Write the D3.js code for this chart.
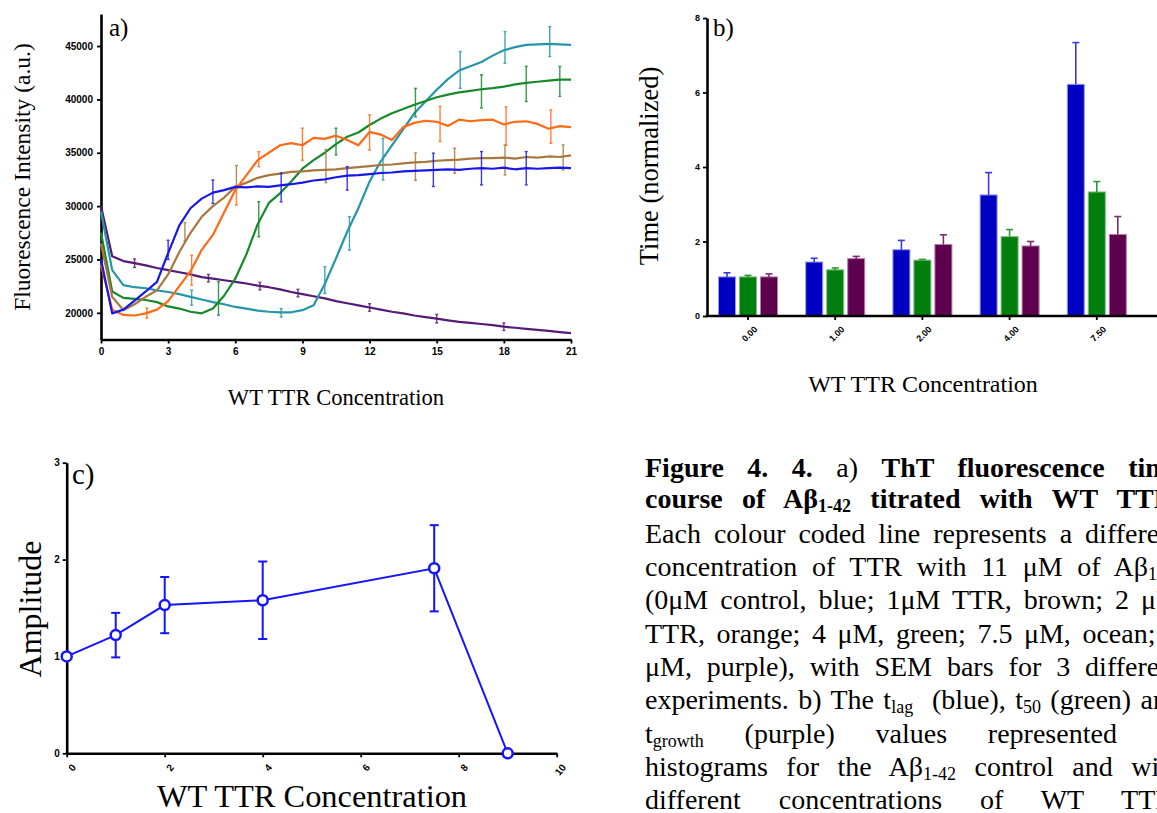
<!DOCTYPE html>
<html>
<head>
<meta charset="utf-8">
<script src="https://cdn.jsdelivr.net/npm/d3@7"></script>
<style>
html,body{margin:0;padding:0;background:#fff;overflow:hidden;width:1157px;height:813px;}
#chart{position:absolute;left:0;top:0;}
.cap{position:absolute;left:645px;width:536px;font-family:"Liberation Serif","Times New Roman",serif;font-size:28px;line-height:28px;text-align:justify;text-align-last:justify;color:#000;}
.sb{font-size:18px;vertical-align:-4px;line-height:0;}
.tick text{font-family:"Liberation Sans",Arial,sans-serif;font-weight:bold;fill:#000;}
.serif{font-family:"Liberation Serif","Times New Roman",serif;fill:#000;}
</style>
</head>
<body>
<div id="chart"></div>
<div id="caption"></div>
<script>
// ---------------- Panel a data (ThT fluorescence time course) ----------------
const timeA = [0,0.5,1,1.5,2,2.5,3,3.5,4,4.5,5,5.5,6,6.5,7,7.5,8,8.5,9,9.5,10,10.5,11,11.5,12,12.5,13,13.5,14,14.5,15,15.5,16,16.5,17,17.5,18,18.5,19,19.5,20,20.5,21];
const fluor0uM  = [25000,19950,20300,21150,22000,22900,25600,28200,29800,30700,31260,31500,31800,31750,31850,31800,31950,32050,32200,32400,32500,32700,32850,32900,33000,33100,33150,33250,33300,33350,33400,33450,33400,33500,33550,33500,33600,33450,33550,33500,33550,33600,33550];
const fluor1uM  = [26500,21500,20250,20800,21500,22100,23600,25700,27500,29000,30000,30800,31800,32200,32650,32900,33050,33200,33250,33350,33400,33450,33550,33650,33750,33850,33900,34000,34100,34150,34250,34300,34350,34450,34500,34500,34550,34450,34600,34550,34650,34600,34750];
const fluor2uM  = [24500,20300,19800,19750,19950,20300,21100,22500,23900,25900,27300,29400,31500,32900,34300,35000,35700,35900,35700,36400,36300,36600,36200,35700,36950,36700,36200,37400,37800,38000,37900,37500,38100,37950,38050,38100,37650,37900,37950,37700,37250,37500,37400];
const fluor4uM  = [27500,22000,21400,21300,21200,21000,20600,20400,20100,19950,20400,21600,23200,25500,28300,30300,31200,32300,33500,34300,35000,35800,36500,36900,37600,38200,38700,39100,39500,39850,40200,40450,40650,40800,40950,41050,41200,41400,41550,41650,41750,41850,41850];
const fluor75uM = [29500,24000,22600,22400,22300,22100,21950,21750,21500,21250,21000,20800,20550,20400,20200,20100,20050,20050,20250,20700,22700,25100,27600,29800,32300,34200,35700,37200,38700,39800,40900,41900,42700,43100,43500,44100,44600,44900,45100,45150,45200,45150,45100];
const fluor9uM  = [30000,25300,24850,24650,24450,24200,24000,23800,23600,23350,23200,23050,22900,22750,22550,22400,22200,21950,21750,21550,21350,21100,20900,20700,20500,20300,20100,19950,19750,19600,19450,19300,19150,19050,18950,18850,18700,18600,18500,18400,18300,18200,18100];
// SEM bars: [time, value, half-range]
const sem0uM  = [[3.0,25900,900],[5.0,31350,1100],[8.05,31750,1350],[11.0,32600,1100],[14.85,33400,1560],[17.0,33550,1560],[19.0,33550,1560]];
const sem1uM  = [[3.75,27600,850],[6.05,32850,950],[10.05,33750,1550],[14.05,33700,1280],[15.8,34250,1170],[18.05,34320,1400],[20.65,34560,1170]];
const sem2uM  = [[2.05,19970,470],[4.05,24000,1400],[6.05,31000,900],[7.05,34400,700],[9.0,35800,1500],[12.0,36900,1650],[15.15,37700,1650],[18.1,37500,1800],[20.1,37450,1560]];
const sem4uM  = [[5.25,21340,1560],[7.05,28770,1640],[10.5,36050,1250],[14.05,39700,1330],[17.0,40750,1550],[19.0,41450,1650],[20.5,41680,1400]];
const sem75uM = [[4.05,21420,700],[8.05,20000,400],[10.0,23070,1250],[11.1,27440,1560],[12.6,34400,1950],[16.05,42760,1720],[18.05,44870,1480],[20.05,45420,1400]];
const sem9uM  = [[1.5,24650,400],[4.8,23250,350],[7.1,22500,350],[8.8,21850,350],[12.0,20500,350],[15.0,19450,400],[18.0,18700,350]];
const ticksXA = [0,3,6,9,12,15,18,21];
const ticksYA = [20000,25000,30000,35000,40000,45000];

// ---------------- Panel b data (normalized times) ----------------
const concB = ["0.00","1.00","2.00","4.00","7.50"];
const paramsB = ["tlag","t50","tgrowth"];
const tLag    = [1.05,1.45,1.78,3.25,6.22];
const tLagErr = [0.11,0.10,0.25,0.60,1.12];
const t50     = [1.05,1.24,1.50,2.13,3.33];
const t50Err  = [0.04,0.05,0.02,0.19,0.28];
const tGrowth    = [1.05,1.54,1.92,1.88,2.19];
const tGrowthErr = [0.08,0.06,0.26,0.12,0.48];
const ticksYB = [0,2,4,6,8];

// ---------------- Panel c data (amplitude) ----------------
const concC = [0,1,2,4,7.5,9];
const amplitude = [1.0,1.22,1.53,1.58,1.91,0];
const amplitudeErr = [0,0.23,0.29,0.40,0.445,0];
const ticksXC = [0,2,4,6,8,10];
const ticksYC = [0,1,2,3];

// ---------------- Styles ----------------
const colA = {b:"#1717e8", br:"#a7773e", o:"#ff6a17", g:"#17892b", t:"#2596a8", p:"#561b74"};
const colB = ["#0000c2","#007f0e","#5f004e"];
const colBerr = ["#3a3ad8","#2b9a34","#7e2a6e"];
const colBedge = ["#9a9af0","#80c080","#b080a8"];
const colC = "#1414ff";

const svg = d3.select("#chart").append("svg").attr("width",1157).attr("height",813);

function styleAxis(g, fs){
  g.select(".domain").attr("stroke","#000").attr("stroke-width",2.6);
  g.selectAll(".tick line").attr("stroke","#000").attr("stroke-width",1.8);
  g.selectAll(".tick text").style("font-size",fs+"px");
}

// ================= Panel a =================
const xA = d3.scaleLinear().domain([0,21]).range([101,571]);
const yA = d3.scaleLinear().domain([17500,48000]).range([339.5,14]);
const gA = svg.append("g");
const axXA = gA.append("g").attr("transform","translate(0,339.5)")
  .call(d3.axisBottom(xA).tickValues(ticksXA).tickFormat(d3.format("d")).tickSize(4).tickSizeOuter(0).tickPadding(4));
styleAxis(axXA,10);
const axYA = gA.append("g").attr("transform","translate(101,0)")
  .call(d3.axisLeft(yA).tickValues(ticksYA).tickFormat(d3.format("d")).tickSize(4).tickSizeOuter(0).tickPadding(4));
styleAxis(axYA,10);

const seriesA = [
  {v:fluor9uM, e:sem9uM, c:colA.p},
  {v:fluor75uM, e:sem75uM, c:colA.t},
  {v:fluor4uM, e:sem4uM, c:colA.g},
  {v:fluor1uM, e:sem1uM, c:colA.br},
  {v:fluor2uM, e:sem2uM, c:colA.o},
  {v:fluor0uM, e:sem0uM, c:colA.b}
];
const lineA = d3.line().x((d,i)=>xA(timeA[i])).y(d=>yA(d));
seriesA.forEach(s=>{
  gA.append("path").attr("d",lineA(s.v)).attr("fill","none").attr("stroke",s.c).attr("stroke-width",2.2).attr("stroke-linejoin","round");
  const eg = gA.append("g").attr("stroke",s.c).attr("stroke-width",1.4).attr("opacity",0.85);
  s.e.forEach(([t,v,h])=>{
    eg.append("line").attr("x1",xA(t)).attr("x2",xA(t)).attr("y1",yA(v-h)).attr("y2",yA(v+h));
    eg.append("line").attr("x1",xA(t)-1.5).attr("x2",xA(t)+1.5).attr("y1",yA(v-h)).attr("y2",yA(v-h));
    eg.append("line").attr("x1",xA(t)-1.5).attr("x2",xA(t)+1.5).attr("y1",yA(v+h)).attr("y2",yA(v+h));
  });
});
gA.append("text").attr("class","serif").attr("x",109).attr("y",36).style("font-size","25px").text("a)");
gA.append("text").attr("class","serif").attr("transform","translate(30,177) rotate(-90)").attr("text-anchor","middle").style("font-size","23.5px").text("Fluorescence Intensity (a.u.)");
gA.append("text").attr("class","serif").attr("x",336).attr("y",405).attr("text-anchor","middle").style("font-size","22.6px").text("WT TTR Concentration");

// ================= Panel b =================
const xB = d3.scaleBand().domain(concB).range([704.4,1140.4]);
const xBin = d3.scaleBand().domain(paramsB).range([-31.5,31.5]).paddingInner(0.19).paddingOuter(0.095);
const yB = d3.scaleLinear().domain([0,8]).range([316,18]);
const gB = svg.append("g");
const valsB = [tLag,t50,tGrowth];
const errsB = [tLagErr,t50Err,tGrowthErr];
paramsB.forEach((p,k)=>{
  concB.forEach((c,i)=>{
    const cx = xB(c)+xB.bandwidth()/2 + xBin(p);
    gB.append("rect").attr("x",cx).attr("width",xBin.bandwidth()).attr("y",yB(valsB[k][i])).attr("height",yB(0)-yB(valsB[k][i]))
      .attr("fill",colB[k]).attr("stroke",colBedge[k]).attr("stroke-width",1);
    const mx = cx + xBin.bandwidth()/2;
    const top = yB(valsB[k][i]+errsB[k][i]);
    gB.append("line").attr("x1",mx).attr("x2",mx).attr("y1",yB(valsB[k][i])).attr("y2",top).attr("stroke",colBerr[k]).attr("stroke-width",1.6);
    gB.append("line").attr("x1",mx-3.5).attr("x2",mx+3.5).attr("y1",top).attr("y2",top).attr("stroke",colBerr[k]).attr("stroke-width",1.6);
  });
});
const axXB = gB.append("g").attr("transform","translate(0,316)")
  .call(d3.axisBottom(xB).tickSize(4).tickSizeOuter(0).tickPadding(3));
axXB.select(".domain").remove();
axXB.selectAll(".tick line").attr("stroke","#000").attr("stroke-width",1.8);
axXB.selectAll(".tick text").style("font-size","9px").attr("text-anchor","end").attr("dy",0)
  .attr("transform","translate(5,9) rotate(-45)");
gB.append("line").attr("x1",705.7).attr("x2",1157).attr("y1",316).attr("y2",316).attr("stroke","#000").attr("stroke-width",2.6);
const axYB = gB.append("g").attr("transform","translate(707,0)")
  .call(d3.axisLeft(yB).tickValues(ticksYB).tickSize(4).tickSizeOuter(0).tickPadding(3));
styleAxis(axYB,9);
gB.append("text").attr("class","serif").attr("x",713).attr("y",36).style("font-size","25px").text("b)");
gB.append("text").attr("class","serif").attr("transform","translate(658,166) rotate(-90)").attr("text-anchor","middle").style("font-size","26.5px").text("Time (normalized)");
gB.append("text").attr("class","serif").attr("x",923).attr("y",392).attr("text-anchor","middle").style("font-size","24px").text("WT TTR Concentration");

// ================= Panel c =================
const xC = d3.scaleLinear().domain([0,10]).range([66.7,556.7]);
const yC = d3.scaleLinear().domain([0,3]).range([753.3,462.7]);
const gC = svg.append("g");
const axXC = gC.append("g").attr("transform","translate(0,753.3)")
  .call(d3.axisBottom(xC).tickValues(ticksXC).tickFormat(d3.format("d")).tickSize(4).tickSizeOuter(0).tickPadding(3));
styleAxis(axXC,10);
axXC.selectAll(".tick text").attr("text-anchor","end").attr("dy",0).attr("transform","translate(4,10) rotate(-50)");
const axYC = gC.append("g").attr("transform","translate(66.7,0)")
  .call(d3.axisLeft(yC).tickValues(ticksYC).tickFormat(d3.format("d")).tickSize(4).tickSizeOuter(0).tickPadding(3));
styleAxis(axYC,10);
const lineC = d3.line().x((d,i)=>xC(concC[i])).y(d=>yC(d));
gC.append("path").attr("d",lineC(amplitude)).attr("fill","none").attr("stroke",colC).attr("stroke-width",2);
concC.forEach((c,i)=>{
  if(amplitudeErr[i]>0){
    const x=xC(c), y1=yC(amplitude[i]-amplitudeErr[i]), y2=yC(amplitude[i]+amplitudeErr[i]);
    gC.append("line").attr("x1",x).attr("x2",x).attr("y1",y1).attr("y2",y2).attr("stroke",colC).attr("stroke-width",2);
    gC.append("line").attr("x1",x-4.5).attr("x2",x+4.5).attr("y1",y1).attr("y2",y1).attr("stroke",colC).attr("stroke-width",2);
    gC.append("line").attr("x1",x-4.5).attr("x2",x+4.5).attr("y1",y2).attr("y2",y2).attr("stroke",colC).attr("stroke-width",2);
  }
});
gC.selectAll("circle.pt").data(amplitude).enter().append("circle").attr("class","pt")
  .attr("cx",(d,i)=>xC(concC[i])).attr("cy",d=>yC(d)).attr("r",5)
  .attr("fill","#fff").attr("stroke",colC).attr("stroke-width",2.5);
gC.append("text").attr("class","serif").attr("x",72).attr("y",484).style("font-size","29px").text("c)");
gC.append("text").attr("class","serif").attr("transform","translate(41,609) rotate(-90)").attr("text-anchor","middle").style("font-size","32px").text("Amplitude");
gC.append("text").attr("class","serif").attr("x",312).attr("y",807).attr("text-anchor","middle").style("font-size","32.4px").text("WT TTR Concentration");

// ================= Caption =================
const captionLines = [
  '<b>Figure 4. 4.</b> a) <b>ThT fluorescence time</b>',
  '<b>course of A\u03b2<span class="sb">1-42</span> titrated with WT TTR.</b>',
  'Each colour coded line represents a different',
  'concentration of TTR with 11 \u03bcM of A\u03b2<span class="sb">1-42</span>',
  '(0\u03bcM control, blue; 1\u03bcM TTR, brown; 2 \u03bcM',
  'TTR, orange; 4 \u03bcM, green; 7.5 \u03bcM, ocean; 9',
  '\u03bcM, purple), with SEM bars for 3 different',
  'experiments. b) The t<span class="sb">lag</span>&nbsp; (blue), t<span class="sb">50</span> (green) and',
  't<span class="sb">growth</span> (purple) values represented as',
  'histograms for the A\u03b2<span class="sb">1-42</span> control and with',
  'different concentrations of WT TTR.'
];
const captionBaselines = [477,508,543,576,609,643,676,709,743,776,809];
d3.select("#caption").selectAll("div").data(captionLines).enter().append("div")
  .attr("class","cap").style("top",(d,i)=>(captionBaselines[i]-23.4)+"px").html(d=>d);
</script>
</body>
</html>
